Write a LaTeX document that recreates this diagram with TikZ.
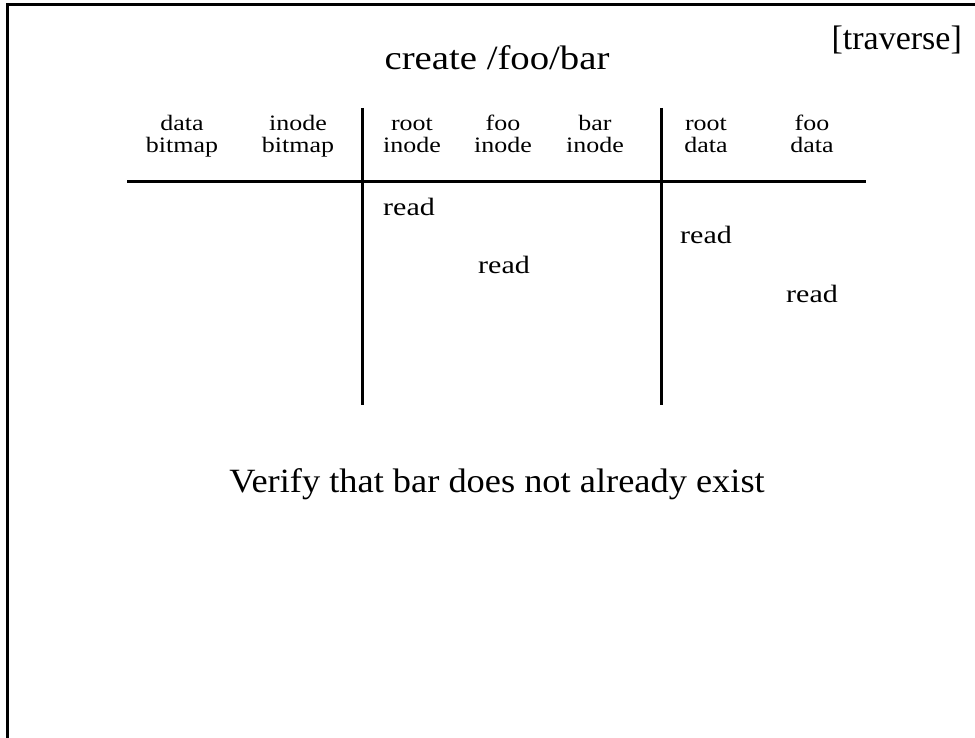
\documentclass[tikz,border=0pt]{standalone}
\usepackage{fontspec}
\setmainfont{Liberation Serif}
\begin{document}
\begin{tikzpicture}[x=1pt,y=-1pt,
  rule/.style={line width=3pt},
  frame/.style={line width=3pt},
  bigtext/.style={font=\fontsize{34}{40}\selectfont, anchor=base, inner sep=0pt},
  head/.style={font=\fontsize{22}{22.5}\selectfont, align=center, inner sep=0pt, xscale=1.18},
  op/.style={font=\fontsize{25}{30}\selectfont, anchor=base, inner sep=0pt, xscale=1.2}]
\useasboundingbox (0,0) rectangle (975,738);

% partial frame: top and left edges
\coordinate (fTL) at (7,5);
\coordinate (fTR) at (975,5);
\coordinate (fBL) at (7,738);
\draw[frame] (fTR) -- (fTL) -- (fBL);

% titles
\node[bigtext, xscale=1.14] (title) at (497,70) {create /foo/bar};
\node[bigtext, anchor=base east] (tag) at (962,50) {[traverse]};

% column headers
\node[head] (dbm) at (182,137) {\strut data\\\strut bitmap};
\node[head] (ibm) at (298,137) {\strut inode\\\strut bitmap};
\node[head] (ri)  at (412,137) {\strut root\\\strut inode};
\node[head] (fi)  at (503,137) {\strut foo\\\strut inode};
\node[head] (bi)  at (595,137) {\strut bar\\\strut inode};
\node[head] (rd)  at (706,137) {\strut root\\\strut data};
\node[head] (fd)  at (812,137) {\strut foo\\\strut data};

% table rules
\coordinate (hL) at (127,182);
\coordinate (hR) at (866,182);
\coordinate (v1T) at (362,108);
\coordinate (v1B) at (362,405);
\coordinate (v2T) at (661,108);
\coordinate (v2B) at (661,405);
\draw[rule] (hL) -- (hR);
\draw[rule] (v1T) -- (v1B);
\draw[rule] (v2T) -- (v2B);

% operations
\node[op] (r1) at (409,216) {read};
\node[op] (r2) at (504,274) {read};
\node[op] (r3) at (706,244) {read};
\node[op] (r4) at (812,302) {read};

% caption
\node[bigtext, xscale=1.07] (note) at (497,492) {Verify that bar does not already exist};
\end{tikzpicture}
\end{document}
